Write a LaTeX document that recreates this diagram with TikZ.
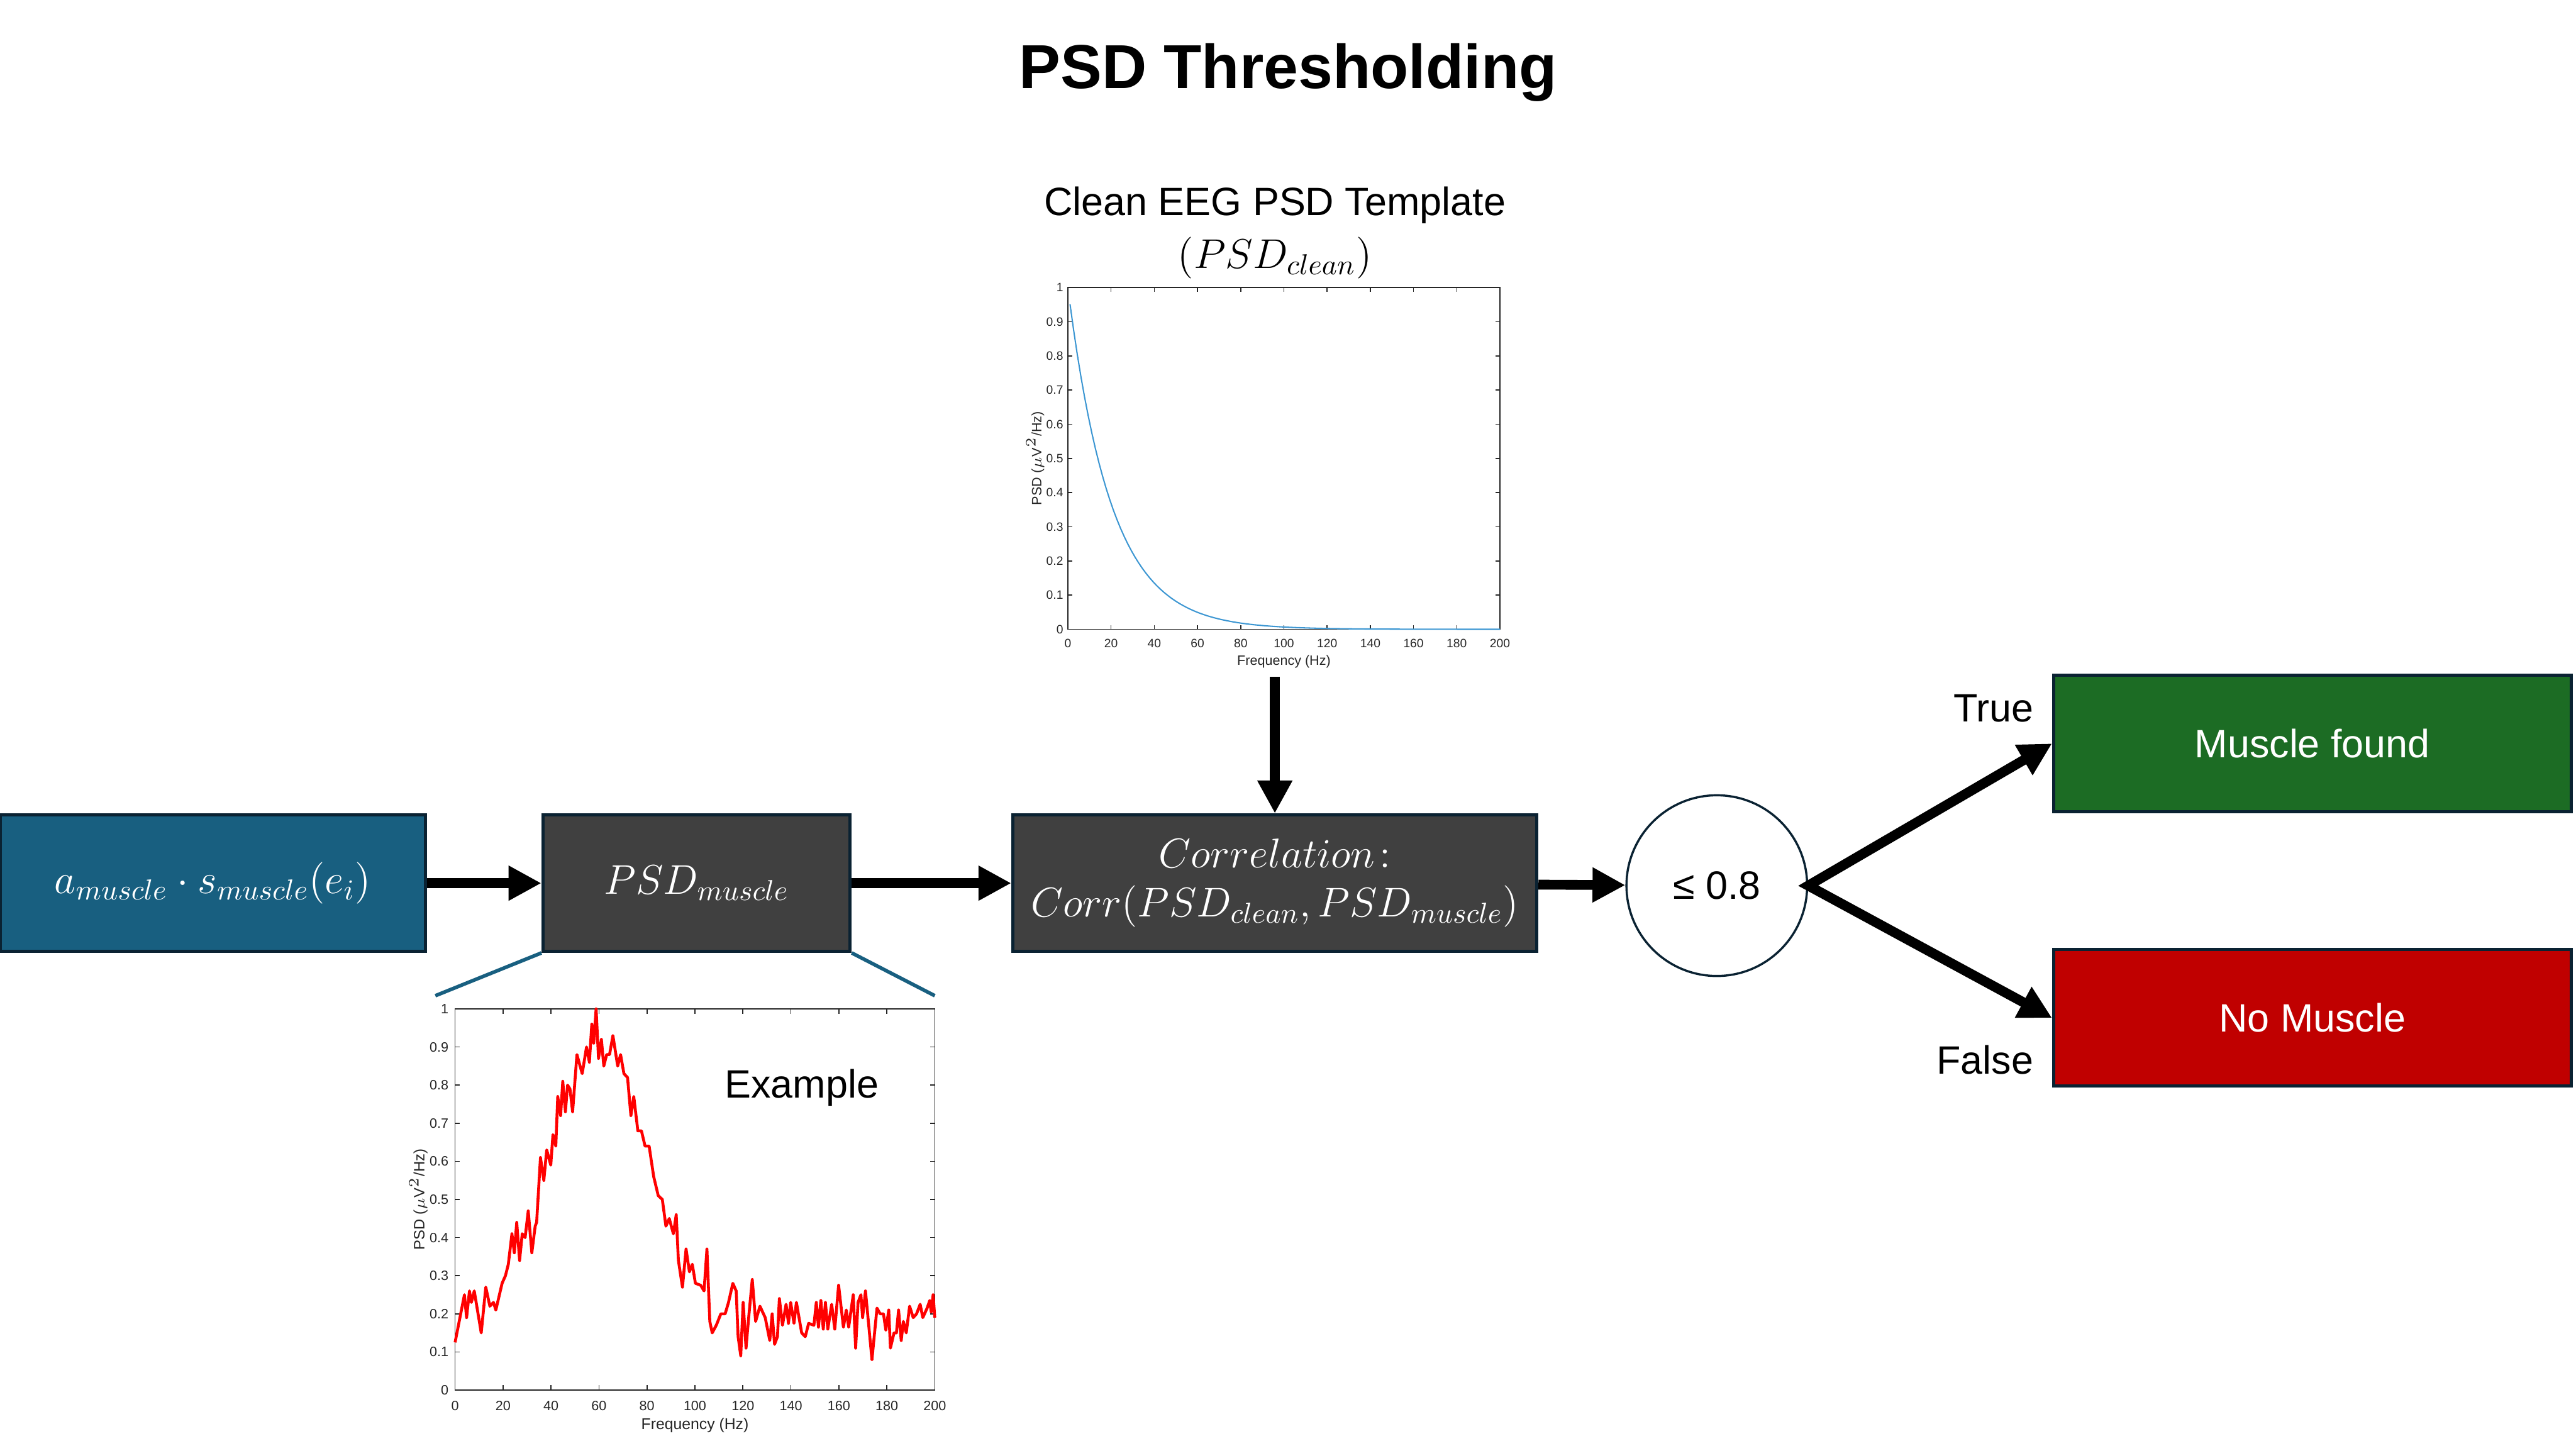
\documentclass[tikz,border=0pt]{standalone}
\usepackage{fontspec}
\setmainfont{Liberation Sans}
\usetikzlibrary{arrows.meta,positioning}

\definecolor{srcblue}{RGB}{24,95,128}
\definecolor{darkbox}{RGB}{64,64,64}
\definecolor{boxline}{RGB}{10,34,50}
\definecolor{foundgreen}{RGB}{28,108,36}
\definecolor{nored}{RGB}{192,0,0}
\definecolor{axgray}{RGB}{38,38,38}
\definecolor{tplblue}{RGB}{60,150,210}

\begin{document}
\begin{tikzpicture}[x=0.02cm, y=-0.02cm,
    >={Triangle[length=0.4cm,width=0.4cm]},
    lbl/.style={inner sep=0pt, font=\fontsize{13.7}{17}\selectfont},
    box/.style={draw=boxline, line width=1.1pt, text=white, align=center,
        minimum height=1.66cm, inner sep=0pt, font=\fontsize{13.7}{17}\selectfont},
    flow/.style={->, line width=3.4pt},
    axline/.style={draw=axgray, line width=0.35pt},
    zoomln/.style={draw=srcblue, line width=1.25pt}]
    \useasboundingbox (0,0) rectangle (1568,877);

    \node[lbl, font=\bfseries\fontsize{21.5}{26}\selectfont] (title) at (784,44) {PSD Thresholding};

    % blocks
    \node[box, fill=srcblue, minimum width=5.18cm] (src) at (129.5,537.5) {$a_{muscle}\cdot s_{muscle}(e_i)$};
    \node[box, fill=darkbox, minimum width=3.74cm] (psd) at (424,537.5) {$PSD_{muscle}$};
    \node[box, fill=darkbox, minimum width=6.38cm] (corr) at (776,537.5) {$Correlation\!:$\\$Corr(PSD_{clean},PSD_{muscle})$};
    \node[lbl, circle, draw=boxline, line width=0.75pt, minimum size=2.2cm] (thr) at (1045,539) {≤ 0.8};
    \node[box, fill=foundgreen, minimum width=6.3cm] (found) at (1407.5,452.5) {Muscle found};
    \node[box, fill=nored, minimum width=6.3cm] (nomus) at (1407.5,619.5) {No Muscle};
    \node[lbl, anchor=east] (tru) at (1238,431) {True};
    \node[lbl, anchor=east] (fal) at (1238,645) {False};

    % template plot
    \node[lbl] (tpltitle) at (776,125) {Clean EEG PSD Template};
    \node[lbl] (tplsym) at (776,157) {$(PSD_{clean})$};
    \begin{scope}[shift={(650,383)}, xscale=1.315, yscale=-208]
        \draw[axline] (0,0) rectangle (200,1);
        \foreach \f in {0,20,...,200} {
            \draw[axline] (\f,0) -- (\f,0.0125);
            \draw[axline] (\f,1) -- (\f,0.9875);
            \node[text=axgray, font=\fontsize{4.2}{5}\selectfont] at (\f,-0.041) {\f};
        }
        \foreach \v in {0,0.1,0.2,0.3,0.4,0.5,0.6,0.7,0.8,0.9,1} {
            \draw[axline] (0,\v) -- (2,\v);
            \draw[axline] (200,\v) -- (198,\v);
            \node[anchor=east, inner sep=0pt, text=axgray, font=\fontsize{4.2}{5}\selectfont] at (-1.9,\v) {\v};
        }
        \node[text=axgray, font=\fontsize{4.7}{5}\selectfont] at (100,-0.094) {Frequency (Hz)};
        \node[rotate=90, text=axgray, font=\fontsize{4.7}{5}\selectfont] at (-15.1,0.5) {PSD ($\mu$V$^2$/Hz)};
        \draw[tplblue, line width=0.45pt] plot[domain=1:200, samples=120] (\x,{exp(-\x/20)});
    \end{scope}
    \coordinate (tplbot) at (776,412);

    % example plot
    \coordinate (zl) at (265,606);
    \coordinate (zr) at (569,606);
    \draw[zoomln] (psd.south west) -- (zl);
    \draw[zoomln] (psd.south east) -- (zr);
    \begin{scope}[shift={(277,846)}, xscale=1.46, yscale=-232]
        \draw[axline] (0,0) rectangle (200,1);
        \foreach \f in {0,20,...,200} {
            \draw[axline] (\f,0) -- (\f,0.0125);
            \draw[axline] (\f,1) -- (\f,0.9875);
            \node[text=axgray, font=\fontsize{4.7}{5}\selectfont] at (\f,-0.042) {\f};
        }
        \foreach \v in {0,0.1,0.2,0.3,0.4,0.5,0.6,0.7,0.8,0.9,1} {
            \draw[axline] (0,\v) -- (2,\v);
            \draw[axline] (200,\v) -- (198,\v);
            \node[anchor=east, inner sep=0pt, text=axgray, font=\fontsize{4.7}{5}\selectfont] at (-2.5,\v) {\v};
        }
        \node[text=axgray, font=\fontsize{5.4}{6}\selectfont] at (100,-0.092) {Frequency (Hz)};
        \node[rotate=90, text=axgray, font=\fontsize{5.2}{6}\selectfont] at (-15.3,0.5) {PSD ($\mu$V$^2$/Hz)};
        \draw[red, line width=1pt, line join=round] plot coordinates {
            (0,0.125) (3.9,0.25) (4.8,0.19) (6,0.26) (6.8,0.23) (8,0.26) (10.9,0.15)
            (12.8,0.27) (14.5,0.22) (16,0.23) (17,0.21) (19.6,0.28) (21,0.30) (22.2,0.33)
            (23.7,0.41) (24.7,0.36) (25.7,0.44) (26.9,0.34) (28,0.41) (29.2,0.40) (30.5,0.47)
            (32,0.36) (33.4,0.43) (34,0.44) (35.6,0.61) (37,0.55) (38.2,0.63) (39.9,0.59)
            (40.8,0.67) (42,0.64) (42.8,0.77) (44,0.72) (44.9,0.81) (46,0.73) (46.9,0.80)
            (47.9,0.79) (49,0.73) (50.8,0.88) (53,0.83) (54.8,0.90) (56,0.86) (57,0.96)
            (57.8,0.91) (58.8,1.0) (59.8,0.87) (61,0.92) (62,0.85) (63.2,0.88) (64.4,0.88)
            (65.8,0.93) (67.8,0.85) (69,0.88) (70.4,0.83) (71.9,0.82) (73.3,0.72) (74.5,0.77)
            (76.2,0.68) (77.7,0.68) (79.2,0.64) (80.9,0.64) (82.8,0.56) (84.7,0.51) (86.4,0.50)
            (87.9,0.43) (89.3,0.45) (91,0.41) (92.2,0.46) (93.1,0.34) (94.8,0.27) (96.3,0.37)
            (97.7,0.31) (98.9,0.33) (100.2,0.28) (102.4,0.275) (103.8,0.26) (105,0.37)
            (106.2,0.18) (107.2,0.15) (108.9,0.17) (110.8,0.20) (112.6,0.20) (114,0.23)
            (115.8,0.28) (117.2,0.26) (118,0.14) (119.1,0.09) (120.1,0.23) (121.3,0.11)
            (122.4,0.19) (123.9,0.29) (125.3,0.18) (127.1,0.22) (129.3,0.19) (131.2,0.13)
            (132.2,0.20) (133.2,0.12) (134.4,0.14) (135.2,0.24) (136.5,0.17) (138,0.225)
            (139,0.175) (139.9,0.23) (141.3,0.175) (142.3,0.23) (144.5,0.15) (146,0.14)
            (147.4,0.175) (149.6,0.17) (150.6,0.23) (151.5,0.165) (152.5,0.235) (153.5,0.16)
            (154.4,0.23) (155.4,0.16) (157,0.225) (158.3,0.16) (159.9,0.275) (161.9,0.165)
            (163.1,0.21) (164.1,0.165) (166,0.25) (167,0.11) (168,0.23) (169.2,0.25)
            (169.9,0.19) (171.1,0.26) (173.8,0.08) (175.9,0.215) (177.2,0.20) (178.6,0.20)
            (179.6,0.157) (180.8,0.21) (181.5,0.11) (183,0.15) (184,0.15) (184.9,0.21)
            (186,0.13) (186.9,0.18) (188.1,0.15) (189.5,0.22) (191,0.19) (192.4,0.20)
            (193.9,0.225) (195,0.19) (196.8,0.215) (197.9,0.235) (198.5,0.205) (199.3,0.25)
            (200,0.19)};
    \end{scope}
    \node[lbl] (expl) at (488,662) {Example};

    % connectors
    \draw[flow] (src) -- (psd);
    \draw[flow] (psd) -- (corr);
    \draw[flow] (tplbot) -- (corr);
    \draw[flow] (corr) -- (thr);
    \draw[flow, <->] (found.west) -- (thr.east) -- (nomus.west);
\end{tikzpicture}
\end{document}
